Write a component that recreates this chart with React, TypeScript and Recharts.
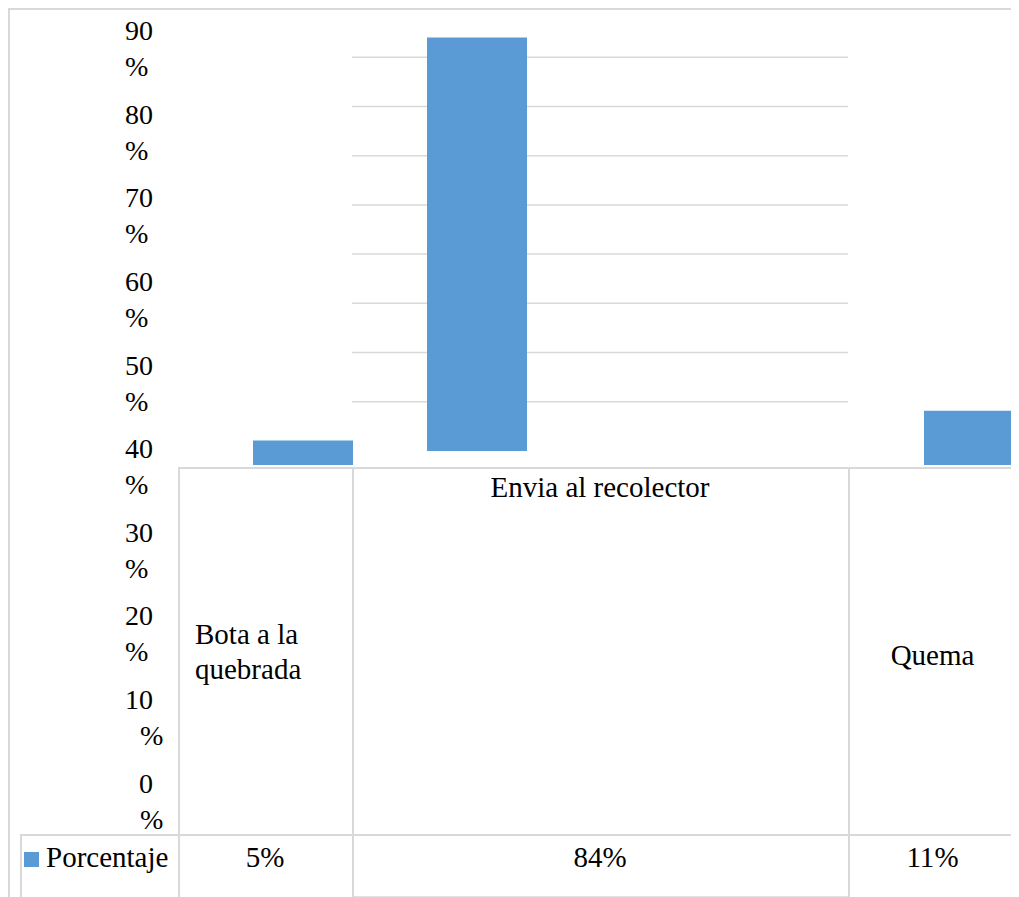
import React from 'react';
import { BarChart, Bar, XAxis, YAxis, CartesianGrid } from 'recharts';

// ---- data ----
const CATEGORIES = ['Bota a la quebrada', 'Envia al recolector', 'Quema'];
const PERCENTAGES = [5, 84, 11];
const SERIES_NAME = 'Porcentaje';
const Y_TICKS = [0, 10, 20, 30, 40, 50, 60, 70, 80, 90];
const GRID_TICKS = [10, 20, 30, 40, 50, 60, 70, 80, 90];

const data = CATEGORIES.map((name, i) => ({ name, value: PERCENTAGES[i] }));

const BLUE = '#5b9bd5';
const LINE = '#d9d9d9';
const FONT = "'Liberation Serif', 'Times New Roman', serif";
const FONT_SIZE = 28;
const TABLE_FONT_SIZE = 29;

// chart is a bit wider than the window, the wrapper crops it like the original export
const VIEW_W = 1011;
const W = 1040;
const H = 889;
const AXIS_W = 170;

// domain that puts value 0 at zeroY (px from the top of the chart)
const domainFor = (zeroY: number, pxPerUnit: number): [number, number] => [
    (zeroY - H) / pxPerUnit,
    zeroY / pxPerUnit,
];

const BAR_PX = 443 / 90;
const MAIN_DOMAIN = domainFor(443, BAR_PX);   // middle bar sits a little higher
const SIDE_DOMAIN = domainFor(457, BAR_PX);   // the two outer bars
const LABEL_DOMAIN = domainFor(775, 8.36);    // the stretched label column

// each bar got shifted on its own in the original, so each has its own category axis
const X_AXES = [
    { id: 'a', padding: { left: 25, right: 245 } },
    { id: 'b', padding: { left: 14, right: 286 } },
    { id: 'c', padding: { left: 446, right: 4 } },
];

const textStyle: React.CSSProperties = {
    position: 'absolute',
    fontFamily: FONT,
    fontSize: TABLE_FONT_SIZE,
    lineHeight: '35px',
    color: '#000',
    whiteSpace: 'nowrap',
};

const PctTick = (props: any) => {
    const { y, payload } = props;
    const v = payload.value as number;
    return (
        <g fontFamily={FONT} fontSize={FONT_SIZE} fill="#000">
            <text x={145} y={y} textAnchor="end" dominantBaseline="central">{v}</text>
            <text x={v < 20 ? 132 : 117} y={y + 36} dominantBaseline="central">%</text>
        </g>
    );
};

const hLine = (x1: number, x2: number, y: number, key: string) => (
    <div key={key} style={{ position: 'absolute', left: x1, top: y, width: x2 - x1, height: 2, background: LINE }} />
);
const vLine = (x: number, y1: number, y2: number, key: string) => (
    <div key={key} style={{ position: 'absolute', left: x, top: y1, width: 2, height: y2 - y1, background: LINE }} />
);

// table columns (left, right) under the chart
const COLS: [number, number][] = [[170, 344], [344, 840], [840, 1009]];
const HEAD_TOP = 459;
const ROW_TOP = 826;

const headStyles: React.CSSProperties[] = [
    { left: COLS[0][0] + 17, top: 609, whiteSpace: 'normal', width: 150 },
    { left: COLS[1][0], width: COLS[1][1] - COLS[1][0], top: 462, textAlign: 'center' },
    { left: COLS[2][0], width: COLS[2][1] - COLS[2][0], top: 630, textAlign: 'center' },
];

export default function App() {
    return (
        <div style={{ position: 'relative', width: VIEW_W, height: H, overflow: 'hidden' }}>
            <style>{'html, body { overflow: hidden; }'}</style>
            <BarChart width={W} height={H} data={data} margin={{ top: 0, right: 0, bottom: 0, left: 0 }}>
                <CartesianGrid
                    xAxisId="a"
                    yAxisId="main"
                    vertical={false}
                    x={344}
                    width={496}
                    stroke={LINE}
                    strokeWidth={1.5}
                />
                {X_AXES.map(ax => (
                    <XAxis key={ax.id} xAxisId={ax.id} dataKey="name" type="category" hide padding={ax.padding} />
                ))}
                <YAxis
                    yAxisId="labels"
                    type="number"
                    domain={LABEL_DOMAIN}
                    allowDataOverflow
                    ticks={Y_TICKS}
                    interval={0}
                    width={AXIS_W}
                    axisLine={false}
                    tickLine={false}
                    tick={PctTick}
                />
                <YAxis yAxisId="main" type="number" domain={MAIN_DOMAIN} allowDataOverflow ticks={GRID_TICKS} interval={0} hide />
                <YAxis yAxisId="side" type="number" domain={SIDE_DOMAIN} allowDataOverflow hide />
                {CATEGORIES.map((cat, i) => (
                    <Bar
                        key={cat}
                        name={SERIES_NAME}
                        xAxisId={X_AXES[i].id}
                        yAxisId={i === 1 ? 'main' : 'side'}
                        dataKey={(d: { name: string; value: number }) => (d.name === cat ? d.value : null)}
                        barSize={100}
                        fill={BLUE}
                        isAnimationActive={false}
                    />
                ))}
            </BarChart>

            {/* frame and data table */}
            {hLine(0, VIEW_W, 0, 'top')}
            {vLine(0, 0, H, 'left')}
            {hLine(COLS[0][0], VIEW_W, HEAD_TOP, 'head')}
            {hLine(12, VIEW_W, ROW_TOP, 'row')}
            {vLine(12, ROW_TOP, H, 'legend-left')}
            {COLS.map(([l], i) => vLine(l, HEAD_TOP, H, `c${i}`))}
            {vLine(COLS[2][1], HEAD_TOP, H, 'right')}

            {CATEGORIES.map((cat, i) => (
                <div key={cat} style={{ ...textStyle, ...headStyles[i] }}>{cat}</div>
            ))}

            <div style={{ position: 'absolute', left: 16, top: 844, width: 15, height: 15, background: BLUE }} />
            <div style={{ ...textStyle, left: 38, top: 832 }}>{SERIES_NAME}</div>
            {PERCENTAGES.map((v, i) => (
                <div
                    key={CATEGORIES[i]}
                    style={{ ...textStyle, left: COLS[i][0], width: COLS[i][1] - COLS[i][0], top: 832, textAlign: 'center' }}
                >
                    {v}%
                </div>
            ))}
        </div>
    );
}
